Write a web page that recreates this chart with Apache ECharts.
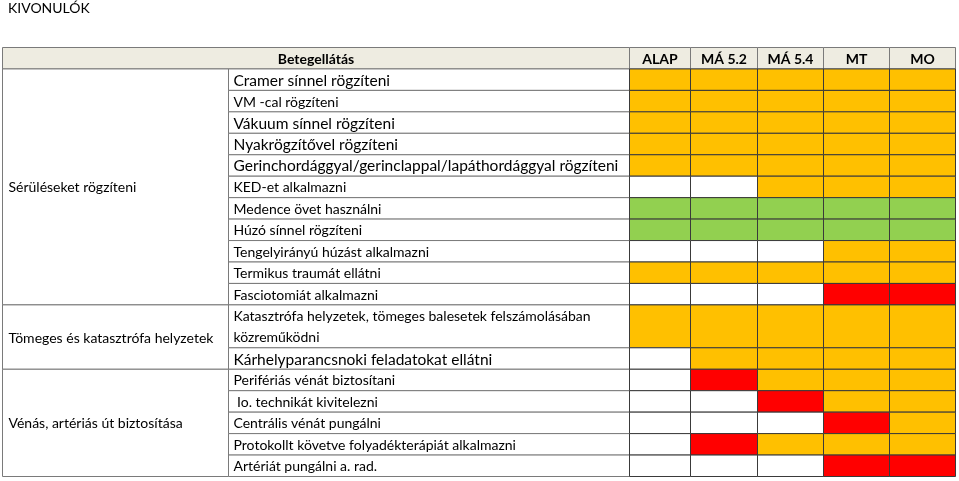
<!DOCTYPE html>
<html>
<head>
<meta charset="utf-8">
<script src="https://cdn.jsdelivr.net/npm/echarts@6/dist/echarts.min.js"></script>
<style>
  html, body { margin: 0; padding: 0; background: #fff; }
  #main { width: 959px; height: 481px; }
</style>
</head>
<body>
<div id="main"></div>
<script>
  // adatok
  const title = 'KIVONULÓK';
  const headerTitle = 'Betegellátás';
  const levels = ['ALAP', 'MÁ 5.2', 'MÁ 5.4', 'MT', 'MO'];
  const groups = ['Sérüléseket rögzíteni', 'Tömeges és katasztrófa helyzetek', 'Vénás, artériás út biztosítása'];
  const groupSizes = [11, 2, 5];
  const tasks = [
    'Cramer sínnel rögzíteni',
    'VM -cal rögzíteni',
    'Vákuum sínnel rögzíteni',
    'Nyakrögzítővel rögzíteni',
    'Gerinchordággyal/gerinclappal/lapáthordággyal rögzíteni',
    'KED-et alkalmazni',
    'Medence övet használni',
    'Húzó sínnel rögzíteni',
    'Tengelyirányú húzást alkalmazni',
    'Termikus traumát ellátni',
    'Fasciotomiát alkalmazni',
    'Katasztrófa helyzetek, tömeges balesetek felszámolásában\nközreműködni',
    'Kárhelyparancsnoki feladatokat ellátni',
    'Perifériás vénát biztosítani',
    ' Io. technikát kivitelezni',
    'Centrális vénát pungálni',
    'Protokollt követve folyadékterápiát alkalmazni',
    'Artériát pungálni a. rad.'
  ];
  // o = narancs, g = zöld, r = piros, w = üres
  const status = [
    ['o', 'o', 'o', 'o', 'o'],
    ['o', 'o', 'o', 'o', 'o'],
    ['o', 'o', 'o', 'o', 'o'],
    ['o', 'o', 'o', 'o', 'o'],
    ['o', 'o', 'o', 'o', 'o'],
    ['w', 'w', 'o', 'o', 'o'],
    ['g', 'g', 'g', 'g', 'g'],
    ['g', 'g', 'g', 'g', 'g'],
    ['w', 'w', 'w', 'o', 'o'],
    ['o', 'o', 'o', 'o', 'o'],
    ['w', 'w', 'w', 'r', 'r'],
    ['o', 'o', 'o', 'o', 'o'],
    ['w', 'o', 'o', 'o', 'o'],
    ['w', 'r', 'o', 'o', 'o'],
    ['w', 'w', 'r', 'o', 'o'],
    ['w', 'w', 'w', 'r', 'o'],
    ['w', 'r', 'o', 'o', 'o'],
    ['w', 'w', 'w', 'r', 'r']
  ];

  const colors = { o: '#FFC000', g: '#92D050', r: '#FF0000', w: '#FFFFFF' };
  const colEdges = [0, 226, 627, 688, 755, 821, 887, 953];
  const font = 'Lato, "Open Sans", sans-serif';
  // az eredetiben ezek a sorok nagyobb betűvel vannak
  const bigTextRows = [0, 2, 3, 4, 12];

  // sorok kezdete (fejléc = 0..1)
  const rowSpan = tasks.map(t => t.split('\n').length);
  const rowStart = [];
  let acc = 1;
  rowSpan.forEach(s => { rowStart.push(acc); acc += s; });
  const totalRows = acc;

  const groupStart = [];
  let gi = 0;
  groupSizes.forEach(n => { groupStart.push(gi); gi += n; });

  function box(api, x0, y0, x1, y1) {
    const a = api.coord([x0, y0]);
    const b = api.coord([x1, y1]);
    return { x: a[0], y: a[1], width: b[0] - a[0], height: b[1] - a[1] };
  }

  const cellData = [];
  status.forEach((row, r) => row.forEach((s, c) => cellData.push([c, r, s])));

  const option = {
    animation: false,
    title: {
      text: title, left: 3, top: -4,
      textStyle: { fontFamily: font, fontSize: 14, fontWeight: 'normal', color: '#000' }
    },
    grid: { left: 2.5, top: 47.5, width: 953, height: 429 },
    xAxis: { type: 'value', min: 0, max: 953, show: false },
    yAxis: { type: 'value', min: 0, max: totalRows, inverse: true, show: false },
    series: [
      {
        // fejléc
        type: 'custom',
        data: [headerTitle].concat(levels).map((t, i) => [i]),
        renderItem: function (params, api) {
          const i = api.value(0);
          const x0 = i === 0 ? colEdges[0] : colEdges[i + 1];
          const x1 = i === 0 ? colEdges[2] : colEdges[i + 2];
          const r = box(api, x0, 0, x1, 1);
          const text = i === 0 ? headerTitle : levels[i - 1];
          return {
            type: 'group',
            children: [
              { type: 'rect', shape: r, style: { fill: '#EEECE1', stroke: '#7a7a7a', lineWidth: 1 } },
              {
                type: 'text',
                style: {
                  text: text, x: r.x + r.width / 2, y: r.y + r.height / 2 + 1,
                  align: 'center', verticalAlign: 'middle',
                  fill: '#000', fontFamily: font, fontSize: 14, fontWeight: 'bold'
                }
              }
            ]
          };
        }
      },
      {
        // csoportok
        type: 'custom',
        data: groups.map((g, i) => [i]),
        renderItem: function (params, api) {
          const i = api.value(0);
          const first = groupStart[i];
          const last = first + groupSizes[i] - 1;
          const y0 = rowStart[first];
          const y1 = rowStart[last] + rowSpan[last];
          const r = box(api, colEdges[0], y0, colEdges[1], y1);
          return {
            type: 'group',
            children: [
              { type: 'rect', shape: r, style: { fill: '#fff', stroke: '#7a7a7a', lineWidth: 1 } },
              {
                type: 'text',
                style: {
                  text: groups[i], x: r.x + 6, y: r.y + r.height / 2 + 1,
                  align: 'left', verticalAlign: 'middle',
                  fill: '#000', fontFamily: font, fontSize: 14
                }
              }
            ]
          };
        }
      },
      {
        // feladatok
        type: 'custom',
        data: tasks.map((t, i) => [i]),
        renderItem: function (params, api) {
          const i = api.value(0);
          const r = box(api, colEdges[1], rowStart[i], colEdges[2], rowStart[i] + rowSpan[i]);
          return {
            type: 'group',
            children: [
              { type: 'rect', shape: r, style: { fill: '#fff', stroke: '#7a7a7a', lineWidth: 1 } },
              {
                type: 'text',
                style: {
                  text: tasks[i], x: r.x + 5, y: r.y + r.height / 2 + 1,
                  align: 'left', verticalAlign: 'middle', lineHeight: 21,
                  fill: '#000', fontFamily: font,
                  fontSize: bigTextRows.indexOf(i) >= 0 ? 15.5 : 14
                }
              }
            ]
          };
        }
      },
      {
        // színes cellák
        type: 'custom',
        data: cellData,
        renderItem: function (params, api) {
          const c = api.value(0);
          const row = api.value(1);
          const s = cellData[params.dataIndex][2];
          const r = box(api, colEdges[c + 2], rowStart[row], colEdges[c + 3], rowStart[row] + rowSpan[row]);
          return { type: 'rect', shape: r, style: { fill: colors[s], stroke: '#3a3a3a', lineWidth: 1 } };
        }
      }
    ]
  };

  const chart = echarts.init(document.getElementById('main'));
  chart.setOption(option);
</script>
</body>
</html>
